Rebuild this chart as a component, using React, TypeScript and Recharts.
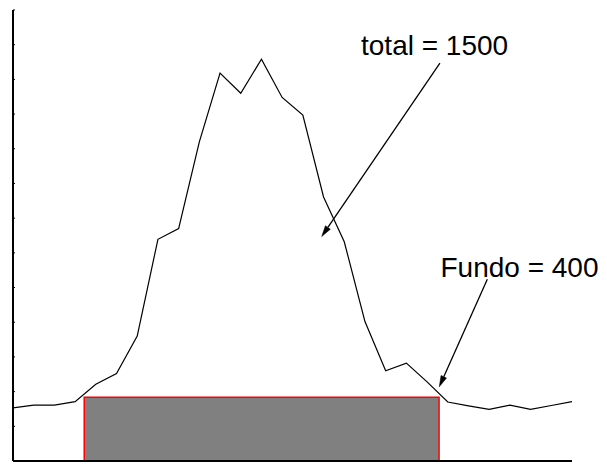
import React from 'react';
import { LineChart, Line, XAxis, YAxis, ReferenceArea, ReferenceLine, ReferenceDot } from 'recharts';

const channels = [0,1,2,3,4,5,6,7,8,9,10,11,12,13,14,15,16,17,18,19,20,21,22,23,24,25,26,27];
const counts = [1.53,1.61,1.61,1.71,2.21,2.52,3.6,6.39,6.7,9.2,11.18,10.6,11.58,10.48,9.97,7.61,6.32,4.02,2.6,2.82,2.28,1.7,1.59,1.49,1.61,1.49,1.6,1.71];
const yTicks = [0,1,2,3,4,5,6,7,8,9,10,11,12,13];

const backgroundStart = 3.44;
const backgroundEnd = 20.58;
const backgroundLevel = 1.84;

const labels = ['total = 1500', 'Fundo = 400'];
const labelX = [16.81, 28.28];
const labelY = [11.7, 5.3];
const labelAnchor = ['start', 'end'];
const arrowFromX = [20.62, 22.91];
const arrowFromY = [11.47, 5.24];
const arrowToX = [14.91, 20.59];
const arrowToY = [6.47, 2.14];

const data = channels.map((c, i) => ({ x: c, y: counts[i] }));

const Arrow = (props: any) => {
  const { x1, y1, x2, y2 } = props;
  const dx = x2 - x1;
  const dy = y2 - y1;
  const len = Math.sqrt(dx * dx + dy * dy);
  const ux = dx / len;
  const uy = dy / len;
  const hl = 11;
  const hw = 3;
  const bx = x2 - ux * hl;
  const by = y2 - uy * hl;
  const pts = `${x2},${y2} ${bx - uy * hw},${by + ux * hw} ${bx + uy * hw},${by - ux * hw}`;
  return (
    <g>
      <line x1={x1} y1={y1} x2={bx} y2={by} stroke="#000" strokeWidth={1.3} />
      <polygon points={pts} fill="#000" stroke="#000" strokeWidth={0.5} />
    </g>
  );
};

const makeText = (txt: string, anchor: string) => (props: any) => (
  <text
    x={props.cx}
    y={props.cy}
    textAnchor={anchor as any}
    fontFamily="Liberation Sans, Arial, sans-serif"
    fontSize={28}
    fill="#000"
  >
    {txt}
  </text>
);

export default function App() {
  return (
    <LineChart width={591} height={456} data={data} margin={{ top: 2, right: 27, bottom: 2, left: 5 }}>
      <XAxis
        type="number"
        dataKey="x"
        domain={[0, 27]}
        height={1}
        tick={false}
        tickLine={false}
        axisLine={{ stroke: '#000', strokeWidth: 2 }}
      />
      <YAxis
        type="number"
        domain={[0, 13]}
        ticks={yTicks}
        width={1}
        mirror
        tickSize={2}
        tickFormatter={() => ''}
        tickLine={{ stroke: '#000' }}
        axisLine={{ stroke: '#000', strokeWidth: 2 }}
      />
      <ReferenceArea
        x1={backgroundStart}
        x2={backgroundEnd}
        y1={0}
        y2={backgroundLevel}
        fill="#808080"
        fillOpacity={1}
        stroke="#ff0000"
        strokeWidth={1.5}
      />
      <Line type="linear" dataKey="y" stroke="#000" strokeWidth={1.2} dot={false} isAnimationActive={false} />
      {labels.map((t, i) => (
        <ReferenceLine
          key={'a' + i}
          segment={[{ x: arrowFromX[i], y: arrowFromY[i] }, { x: arrowToX[i], y: arrowToY[i] }]}
          shape={Arrow}
        />
      ))}
      {labels.map((t, i) => (
        <ReferenceDot
          key={'t' + i}
          x={labelX[i]}
          y={labelY[i]}
          r={0}
          ifOverflow="visible"
          shape={makeText(t, labelAnchor[i])}
        />
      ))}
    </LineChart>
  );
}
